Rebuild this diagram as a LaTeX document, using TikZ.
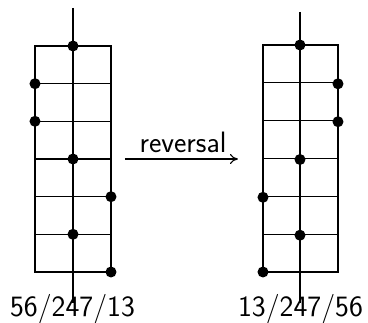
\documentclass[tikz,border=0pt]{standalone}
\usetikzlibrary{arrows.meta}
\begin{document}
\begin{tikzpicture}[x=1pt,y=-1pt,line width=1.3pt,
  dot/.style={circle,fill=black,inner sep=0pt,minimum size=11pt},
  lbl/.style={font=\sffamily\fontsize{29.5}{35}\selectfont,inner sep=0pt,anchor=base}]
\useasboundingbox (0,0) rectangle (368,323);
% left grid
\draw (35,46) rectangle (111,272);
\foreach \k in {1,...,5} \draw (35,46+\k*37.667) -- (111,46+\k*37.667);
\coordinate (lt) at (73,8);
\coordinate (lb) at (73,303);
\draw (lt) -- (lb);
\node[dot] (l1) at (73,46) {};
\node[dot] (l2) at (35,83.7) {};
\node[dot] (l3) at (35,121.3) {};
\node[dot] (l4) at (73,159) {};
\node[dot] (l5) at (111,196.7) {};
\node[dot] (l6) at (73,234.3) {};
\node[dot] (l7) at (111,272) {};
\node[lbl] (ltext) at (72.5,317) {56/247/13};
% right grid
\draw (263,45) rectangle (338,272);
\foreach \k in {1,...,5} \draw (263,45+\k*37.833) -- (338,45+\k*37.833);
\coordinate (rt) at (300,12);
\coordinate (rb) at (300,303);
\draw (rt) -- (rb);
\node[dot] (r1) at (300,45) {};
\node[dot] (r2) at (338,83.8) {};
\node[dot] (r3) at (338,121.7) {};
\node[dot] (r4) at (300,159.5) {};
\node[dot] (r5) at (263,197.3) {};
\node[dot] (r6) at (300,235.2) {};
\node[dot] (r7) at (263,272) {};
\node[lbl] (rtext) at (300.5,317) {13/247/56};
% arrow
\coordinate (as) at (125,159);
\coordinate (ae) at (238,159);
\draw[line width=1.1pt,-{To[length=8pt,width=10pt]}] (as) -- (ae);
\node[lbl] (rev) at (183,153) {reversal};
\end{tikzpicture}
\end{document}
